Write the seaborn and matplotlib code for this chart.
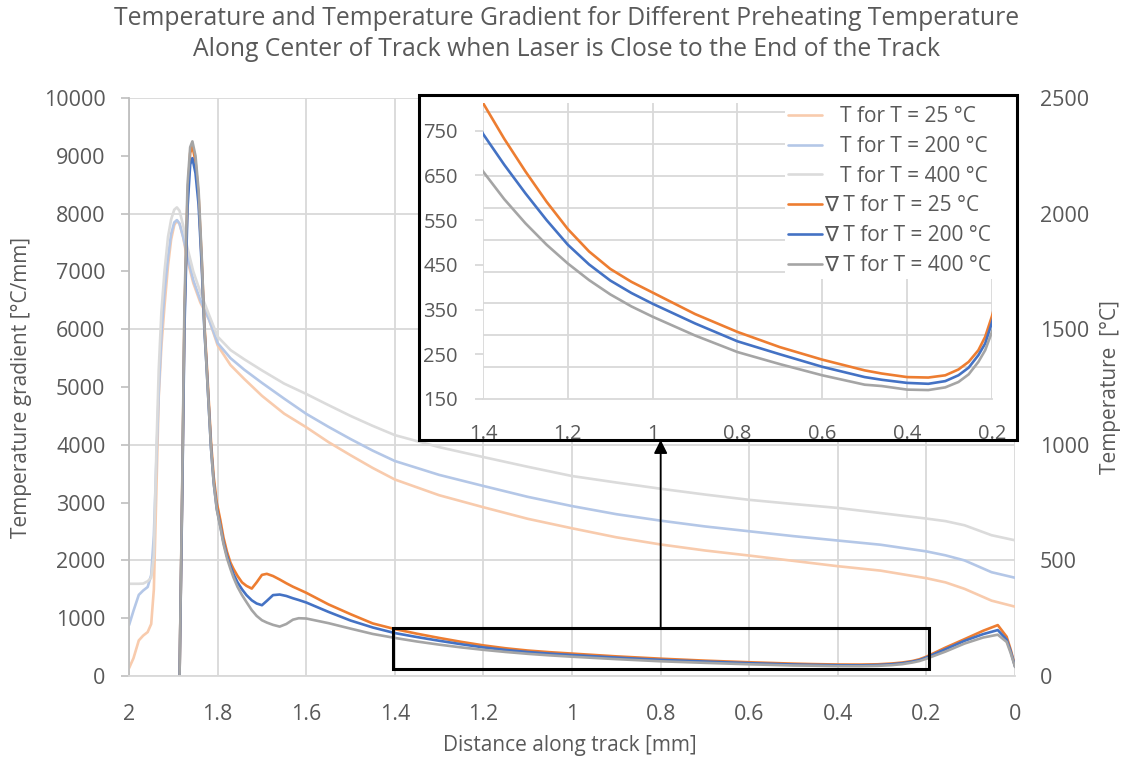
import matplotlib
matplotlib.use("Agg")
import matplotlib.pyplot as plt
import seaborn as sns
from matplotlib.patches import Rectangle

# Distância ao longo da trilha [mm] - gradiente
x_grad = [1.886, 1.880, 1.875, 1.868, 1.862, 1.857, 1.850, 1.843, 1.836, 1.830,
          1.825, 1.820, 1.815, 1.809, 1.802, 1.794, 1.787, 1.779, 1.771, 1.764,
          1.755, 1.745, 1.735, 1.723, 1.712, 1.700, 1.689, 1.675, 1.660, 1.645,
          1.630, 1.617, 1.600, 1.550, 1.500, 1.450,
          1.400, 1.350, 1.300, 1.250, 1.200, 1.150, 1.100, 1.050, 1.000, 0.900,
          0.800, 0.700, 0.600, 0.500, 0.460, 0.400, 0.350, 0.310, 0.279, 0.255,
          0.232, 0.216, 0.200,
          0.157, 0.114, 0.072, 0.039, 0.019, 0.010, 0.0]
grad_25 = [0, 3200, 6200, 8300, 9050, 9170, 8900, 8300, 7200, 6100,
           5450, 4750, 4050, 3450, 3000, 2700, 2400, 2150, 1960, 1850,
           1730, 1620, 1560, 1513, 1620, 1750, 1768, 1730, 1670, 1605,
           1545, 1500, 1440, 1240, 1070, 910,
           812, 732, 659, 591, 530, 480, 441, 412, 388, 340,
           300, 266, 238, 214, 207, 199, 198, 203, 216, 233,
           259, 289, 335,
           492, 638, 783, 881, 680, 460, 174]
grad_200 = [0, 3100, 6000, 8100, 8850, 8960, 8700, 8150, 7100, 6000,
            5350, 4650, 3950, 3350, 2900, 2600, 2320, 2080, 1900, 1760,
            1620, 1500, 1400, 1310, 1255, 1225, 1300, 1400, 1410, 1385,
            1345, 1315, 1272, 1110, 960, 840,
            743, 674, 610, 550, 495, 451, 415, 387, 363, 319,
            279, 250, 222, 199, 193, 186, 184, 190, 203, 220,
            248, 274, 321,
            464, 609, 725, 795, 630, 430, 165]
grad_400 = [0, 3300, 6400, 8500, 9150, 9250, 9000, 8400, 7260, 6050,
            5350, 4650, 3950, 3350, 2880, 2580, 2290, 2040, 1850, 1700,
            1540, 1400, 1280, 1140, 1040, 965, 925, 885, 855, 900,
            975, 1000, 995, 915, 820, 728,
            659, 597, 543, 495, 453, 416, 384, 357, 334, 292,
            255, 228, 203, 182, 179, 171, 170, 176, 188, 205,
            233, 259, 300,
            423, 562, 666, 715, 590, 400, 155]

# Distância ao longo da trilha [mm] - temperatura
x_temp = [2.000, 1.990, 1.978, 1.968, 1.958, 1.950, 1.944, 1.938, 1.933, 1.927,
          1.920, 1.912, 1.905, 1.898, 1.892, 1.886, 1.878, 1.869, 1.855, 1.839,
          1.820, 1.800, 1.771, 1.740, 1.700, 1.650, 1.600, 1.550, 1.500, 1.450,
          1.400, 1.300, 1.200, 1.100, 1.000, 0.900, 0.800, 0.700, 0.600, 0.500,
          0.400, 0.304, 0.200, 0.157, 0.114, 0.053, 0.0]
temp_25 = [34, 77, 154, 175, 190, 225, 375, 825, 1207, 1425,
           1600, 1775, 1888, 1950, 1970, 1955, 1900, 1806, 1700, 1615,
           1545, 1430, 1345, 1285, 1212, 1135, 1076, 1012, 955, 900,
           850, 782, 730, 680, 639, 600, 569, 543, 521, 498,
           475, 456, 423, 405, 377, 326, 300]
temp_200 = [220, 282, 351, 370, 385, 437, 608, 950, 1225, 1475,
            1662, 1812, 1912, 1962, 1972, 1957, 1900, 1824, 1712, 1625,
            1545, 1440, 1375, 1325, 1268, 1200, 1134, 1078, 1025, 975,
            930, 870, 822, 775, 735, 700, 672, 647, 626, 605,
            586, 568, 539, 522, 500, 449, 425]
temp_400 = [399, 399, 399, 400, 410, 425, 522, 1000, 1325, 1575,
            1750, 1900, 1975, 2017, 2027, 2012, 1950, 1858, 1750, 1660,
            1565, 1468, 1410, 1370, 1322, 1265, 1220, 1172, 1125, 1082,
            1042, 990, 947, 905, 865, 837, 810, 785, 762, 744,
            727, 705, 681, 670, 652, 609, 587]

labels_temp = ["   T for T = 25 °C", "   T for T = 200 °C", "   T for T = 400 °C"]
labels_grad = ["∇ T for T = 25 °C", "∇ T for T = 200 °C", "∇ T for T = 400 °C"]

xticks_main = [2, 1.8, 1.6, 1.4, 1.2, 1, 0.8, 0.6, 0.4, 0.2, 0]
xticklabels_main = ["2", "1.8", "1.6", "1.4", "1.2", "1", "0.8", "0.6", "0.4", "0.2", "0"]
xticks_zoom = [1.4, 1.2, 1, 0.8, 0.6, 0.4, 0.2]
xticklabels_zoom = ["1.4", "1.2", "1", "0.8", "0.6", "0.4", "0.2"]

cores_grad = ["#ED7D31", "#4472C4", "#A5A5A5"]
cores_temp = ["#F8CBAD", "#B4C7E7", "#DBDBDB"]
cinza_txt = "#595959"
cinza_grid = "#D9D9D9"

sns.set_style("white")
plt.rcParams["font.family"] = ["Open Sans", "DejaVu Sans"]

fig = plt.figure(figsize=(11.33, 7.6), dpi=100)
ax = fig.add_axes([0.1139, 0.1105, 0.782, 0.7605])
ax2 = ax.twinx()
ax.set_zorder(ax2.get_zorder() + 1)
ax.patch.set_visible(False)

# Temperaturas (eixo direito)
for y, c, lab in zip([temp_25, temp_200, temp_400], cores_temp, labels_temp):
    sns.lineplot(x=x_temp, y=y, ax=ax2, color=c, lw=1.9, sort=False,
                 estimator=None, label=lab, legend=False)

# Gradientes (eixo esquerdo)
for y, c, lab in zip([grad_25, grad_200, grad_400], cores_grad, labels_grad):
    sns.lineplot(x=x_grad, y=y, ax=ax, color=c, lw=1.9, sort=False,
                 estimator=None, label=lab, legend=False)

ax.set_xlim(2, 0)
ax.set_ylim(0, 10000)
ax.set_yticks(range(0, 10001, 1000))
ax.set_xticks(xticks_main)
ax.set_xticklabels(xticklabels_main)
ax2.set_ylim(0, 2500)
ax2.set_yticks(range(0, 2501, 500))

ax.grid(False)
ax2.grid(axis="y", color=cinza_grid, lw=1.3)
ax2.xaxis.set_visible(True)
ax2.tick_params(axis="x", bottom=False, top=False, labelbottom=False, labeltop=False)
ax2.grid(axis="x", color=cinza_grid, lw=1.3)

for s in ["top", "right"]:
    ax.spines[s].set_visible(False)
ax.spines["left"].set_color("#BFBFBF")
ax.spines["left"].set_linewidth(1.3)
ax.spines["bottom"].set_color(cinza_grid)
ax.spines["bottom"].set_linewidth(1.3)
for s in ax2.spines.values():
    s.set_visible(False)

ax.tick_params(axis="y", left=True, direction="out", length=6, width=1.2,
               color="#BFBFBF", pad=11, labelsize=15.5, labelcolor=cinza_txt)
ax.tick_params(axis="x", length=0, pad=20, labelsize=15.5, labelcolor=cinza_txt)
ax2.tick_params(axis="y", length=0, pad=18, labelsize=15.5, labelcolor=cinza_txt)

ax.set_xlabel("Distance along track [mm]", fontsize=15, color=cinza_txt)
ax.set_ylabel("Temperature gradient [°C/mm]", fontsize=15, color=cinza_txt)
ax2.set_ylabel("Temperature  [°C]", fontsize=15, color=cinza_txt)
ax.xaxis.set_label_coords(0.498, -0.102)
ax.yaxis.set_label_coords(-0.1095, 0.5)
ax2.yaxis.set_label_coords(1.096, 0.5)

# Retângulo da região ampliada e seta
ax.add_patch(Rectangle((0.195, 130), 1.21, 695, fill=False, ec="black", lw=2.2, zorder=5))
ax.annotate("", xy=(0.8, 4085), xytext=(0.8, 825),
            arrowprops=dict(arrowstyle="-|>", color="black", lw=1.3,
                            mutation_scale=20, shrinkA=0, shrinkB=0))

fig.text(0.5, 0.992,
         "Temperature and Temperature Gradient for Different Preheating Temperature\n"
         "Along Center of Track when Laser is Close to the End of the Track",
         ha="center", va="top", fontsize=17.8, color=cinza_txt, linespacing=1.3)

# Moldura do detalhe
fig.add_artist(Rectangle((0.3698, 0.421), 0.5278, 0.454, transform=fig.transFigure,
                         fc="white", ec="black", lw=2.2, zorder=2))

axi = fig.add_axes([0.4263, 0.475, 0.4492, 0.3895], zorder=3)
axi.patch.set_visible(False)
for y, c in zip([grad_25, grad_200, grad_400], cores_grad):
    sns.lineplot(x=x_grad, y=y, ax=axi, color=c, lw=1.9, sort=False,
                 estimator=None, legend=False)
axi.set_xlim(1.4, 0.2)
axi.set_ylim(150, 812)
axi.set_yticks(range(150, 751, 100))
axi.set_yticks([150 + 71.2 * k for k in range(10)], minor=True)
axi.set_xticks(xticks_zoom)
axi.set_xticklabels(xticklabels_zoom)
axi.set_xlabel("")
axi.set_ylabel("")
axi.grid(axis="x", color=cinza_grid, lw=1.3)
axi.grid(axis="y", which="minor", color=cinza_grid, lw=1.3)
for s in ["top", "right", "left"]:
    axi.spines[s].set_visible(False)
axi.spines["bottom"].set_color(cinza_grid)
axi.spines["bottom"].set_linewidth(1.3)
axi.tick_params(axis="y", which="major", left=True, length=6, color=cinza_grid, width=1.3,
                pad=12, labelsize=14.5, labelcolor=cinza_txt)
axi.tick_params(axis="y", which="minor", left=False, length=0)
axi.tick_params(axis="x", length=0, pad=18, labelsize=14.5, labelcolor=cinza_txt)

handles = ax2.get_lines()[:3] + ax.get_lines()[:3]
axi.legend(handles, labels_temp + labels_grad, loc="upper right",
           bbox_to_anchor=(1.005, 1.0), frameon=True, fancybox=False,
           facecolor="white", edgecolor="none", framealpha=1, fontsize=15,
           labelcolor=cinza_txt, handlelength=1.65, handletextpad=0.1,
           labelspacing=0.42, borderpad=0.15, borderaxespad=0)

fig.savefig("out.png", dpi=100)
